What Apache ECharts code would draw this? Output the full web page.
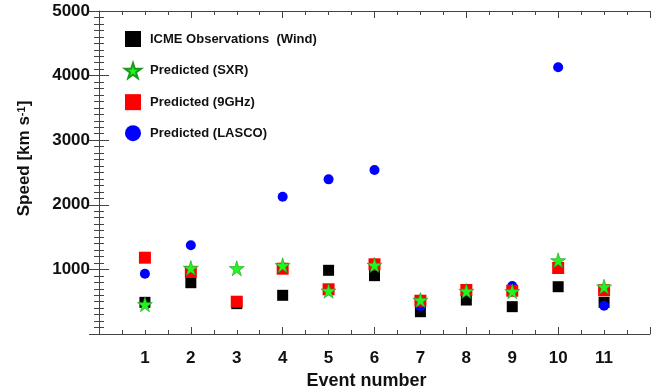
<!DOCTYPE html>
<html>
<head>
<meta charset="utf-8">
<script src="https://cdn.jsdelivr.net/npm/echarts@6/dist/echarts.min.js"></script>
<style>
  html, body { margin: 0; padding: 0; background: #fff; }
  #chart { width: 656px; height: 387px; }
</style>
</head>
<body>
<div id="chart"></div>
<script>
const events = [1, 2, 3, 4, 5, 6, 7, 8, 9, 10, 11];
const icmeWind = [490, 794, 470, 599, 986, 903, 345, 526, 423, 732, 490];
const predSXR = [460, 1022, 1017, 1063, 670, 1068, 526, 666, 661, 1140, 732];
const pred9GHz = [1181, 960, 500, 1011, 692, 1079, 515, 681, 670, 1022, 676];
const predLASCO = [933, 1373, null, 2125, 2394, 2539, 433, 692, 743, 4128, 438];

const STAR = 'path://M50,0 L61,35 L98,35 L68,57 L79,91 L50,70 L21,91 L32,57 L2,35 L39,35 Z';
const FONT = '"Liberation Sans", Arial, sans-serif';

const pairs = (vals) => events.map((e, i) => vals[i] == null ? null : [e, vals[i]]).filter(Boolean);

const chart = echarts.init(document.getElementById('chart'), null, { renderer: 'canvas' });

// tick-only axes: long ticks every 2 events, short ones every half event
const tickAxisBase = {
  type: 'value', min: 0, max: 12, interval: 2,
  axisLine: { show: false },
  axisTick: { show: true, inside: true, length: 7, lineStyle: { color: '#444' } },
  minorTick: { show: true, splitNumber: 4, length: 4, lineStyle: { color: '#444' } },
  axisLabel: { show: false },
  splitLine: { show: false },
};

chart.setOption({
  animation: false,
  backgroundColor: '#fff',
  grid: { left: 99, right: 6, top: 11, bottom: 53, outerBoundsMode: 'none' },
  legend: {
    orient: 'vertical',
    left: 119, top: 26,
    itemWidth: 16, itemHeight: 16, itemGap: 15,
    data: [
      { name: 'ICME Observations  (Wind)', icon: 'rect' },
      { name: 'Predicted (SXR)', icon: STAR },
      { name: 'Predicted (9GHz)', icon: 'rect' },
      { name: 'Predicted (LASCO)', icon: 'circle' },
    ],
    textStyle: { fontFamily: FONT, fontWeight: 'bold', fontSize: 13, color: '#111', padding: [0, 0, 0, 4] },
  },
  xAxis: [
    {
      type: 'value', min: 0, max: 12, interval: 1, position: 'bottom',
      name: 'Event number', nameLocation: 'middle', nameGap: 38,
      nameTextStyle: { fontFamily: FONT, fontWeight: 'bold', fontSize: 18, color: '#111', padding: [0, 16, 0, 0] },
      axisLine: { show: true, lineStyle: { color: '#444' } },
      axisTick: { show: false },
      axisLabel: {
        margin: 16, fontFamily: FONT, fontWeight: 'bold', fontSize: 17, color: '#111',
        formatter: (v) => (v === 0 || v === 12) ? '' : String(v),
      },
      splitLine: { show: false },
    },
    Object.assign({}, tickAxisBase, { position: 'bottom' }),
    Object.assign({}, tickAxisBase, { position: 'top', axisLine: { show: true, lineStyle: { color: '#444' } } }),
  ],
  yAxis: [
    {
      type: 'value', min: 0, max: 5000, interval: 1000, position: 'left',
      name: 'Speed [km s{sup|-1}]', nameLocation: 'middle', nameGap: 66,
      nameTextStyle: {
        fontFamily: FONT, fontWeight: 'bold', fontSize: 17, color: '#111', padding: [0, 0, 0, 28],
        rich: { sup: { fontFamily: FONT, fontWeight: 'bold', fontSize: 11, color: '#111', verticalAlign: 'top', padding: [0, 0, 6, 0] } },
      },
      axisLine: { show: true, lineStyle: { color: '#444' } },
      axisTick: { show: true, inside: true, length: 10, lineStyle: { color: '#444' } },
      minorTick: { show: true, splitNumber: 10, length: 5, lineStyle: { color: '#444' } },
      axisLabel: {
        margin: 9, fontFamily: FONT, fontWeight: 'bold', fontSize: 17, color: '#111',
        formatter: (v) => v === 0 ? '' : String(v),
      },
      splitLine: { show: false },
    },
    {
      type: 'value', min: 0, max: 5000, interval: 1000, position: 'right',
      axisLine: { show: false },
      axisTick: { show: true, inside: true, length: 10, lineStyle: { color: '#444' } },
      minorTick: { show: true, splitNumber: 10, length: 5, lineStyle: { color: '#444' } },
      axisLabel: { show: false },
      splitLine: { show: false },
    },
  ],
  series: [
    {
      name: 'ICME Observations  (Wind)', type: 'scatter', z: 2,
      symbol: 'rect', symbolSize: 11,
      itemStyle: { color: '#000', opacity: 1 },
      data: pairs(icmeWind),
    },
    {
      name: 'Predicted (SXR)', type: 'scatter', z: 5,
      symbol: STAR, symbolSize: 15,
      itemStyle: { color: '#22f522', borderColor: '#1a9a1a', borderWidth: 0.6, opacity: 1 },
      data: pairs(predSXR),
    },
    {
      name: 'Predicted (9GHz)', type: 'scatter', z: 4,
      symbol: 'rect', symbolSize: 12,
      itemStyle: { color: '#ff0000', opacity: 1 },
      data: pairs(pred9GHz),
    },
    {
      name: 'Predicted (LASCO)', type: 'scatter', z: 3,
      symbol: 'circle', symbolSize: 10,
      itemStyle: { color: '#0000ff', opacity: 1 },
      data: pairs(predLASCO),
    },
  ],
});
</script>
</body>
</html>
